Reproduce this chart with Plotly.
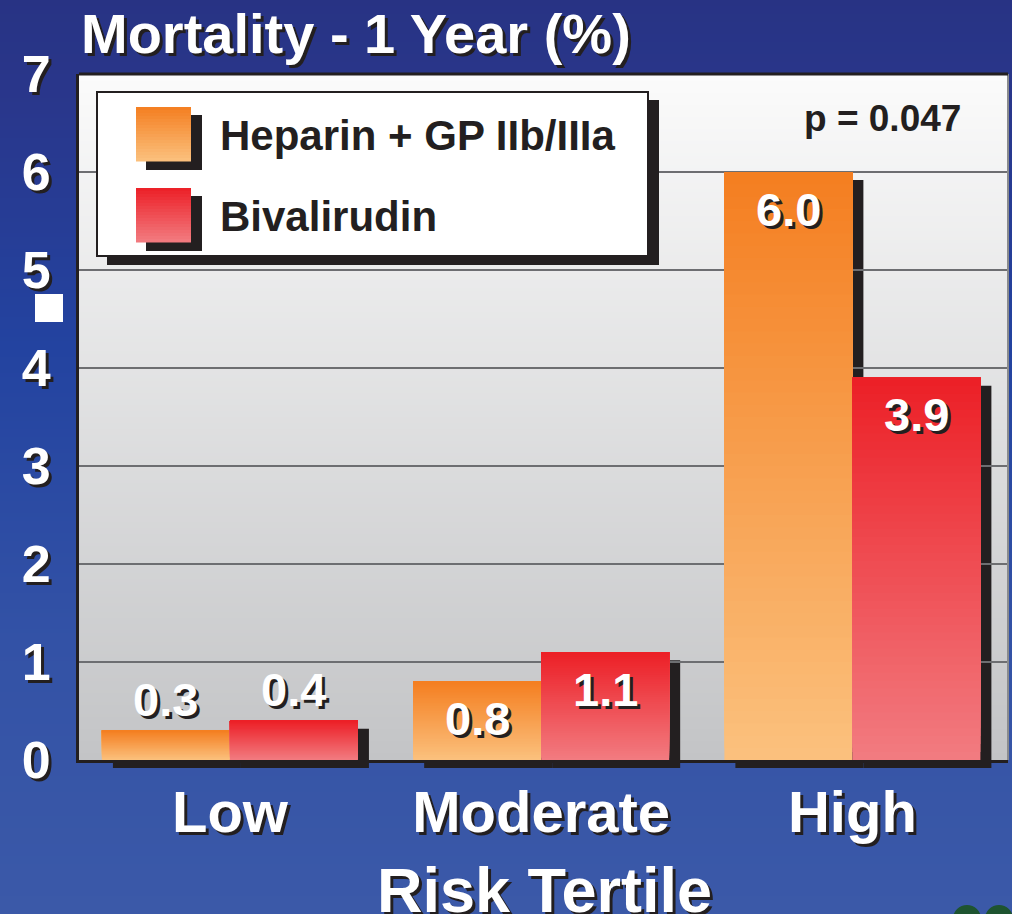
import numpy as np
import plotly.graph_objects as go

# ---------------- data ----------------
categories = ["Low", "Moderate", "High"]
heparin = [0.3, 0.8, 6.0]
bivalirudin = [0.4, 1.1, 3.9]
series_names = ["Heparin + GP IIb/IIIa", "Bivalirudin"]
y_ticks = [0, 1, 2, 3, 4, 5, 6, 7]
title_text = "Mortality - 1 Year (%)"
x_title_text = "Risk Tertile"
p_text = "p = 0.047"

# ---------------- layout geometry ----------------
W, H = 1012, 914
FONT = "Liberation Sans, Arial, Helvetica, sans-serif"
DARK = "#231f20"


def px_x(px):
    return px / W


def px_y(py):
    return 1 - py / H


PLOT_L, PLOT_R, PLOT_T, PLOT_B = 79, 1008, 74, 760
dom_x = [px_x(PLOT_L), px_x(PLOT_R)]
dom_y = [px_y(PLOT_B), px_y(PLOT_T)]
XR = [-0.485, 2.5]
YR = [0, 7]
ppx = (PLOT_R - PLOT_L) / (XR[1] - XR[0])
ppy = (PLOT_B - PLOT_T) / (YR[1] - YR[0])
BW = 128 / ppx          # bar width in category units
SH_DX, SH_DY = 11, 8    # shadow offset in pixels
NSEG = 48               # gradient steps

# shadow subplot: same scale as the main one, shifted by the shadow offset
sh_dom_x = [px_x(PLOT_L + SH_DX), 1.0]
sh_XR = [XR[0], XR[0] + (W - PLOT_L - SH_DX) / ppx]
sh_dom_y = [px_y(PLOT_B + SH_DY), px_y(PLOT_T + SH_DY)]

series = [
    dict(name=series_names[0], values=heparin, offset=-BW, top="#f47e20", bot="#fbc17e"),
    dict(name=series_names[1], values=bivalirudin, offset=0.0, top="#ec1f26", bot="#f27c81"),
]


def hex2rgb(h):
    h = h.lstrip("#")
    return [int(h[i:i + 2], 16) for i in (0, 2, 4)]


def mix(c1, c2, t):
    a, b = hex2rgb(c1), hex2rgb(c2)
    return "rgb(%d,%d,%d)" % tuple(round(a[i] + (b[i] - a[i]) * t) for i in range(3))


fig = go.Figure()

# page background gradient (subplot x/y covering the whole page)
gy = np.linspace(0, 1, 230)
fig.add_trace(go.Heatmap(
    x=[0, 1], y=gy, z=[[v, v] for v in gy], zmin=0, zmax=1,
    colorscale=[[0, "#3b59a8"], [0.3, "#3352a6"], [0.62, "#2343a0"], [0.88, "#29378c"], [1, "#283384"]],
    showscale=False, hoverinfo="skip", xaxis="x", yaxis="y"))

# plot-area background gradient (subplot x2/y2)
fig.add_trace(go.Heatmap(
    x=[0, 1], y=gy, z=[[v, v] for v in gy], zmin=0, zmax=1,
    colorscale=[[0, "#c3c4c6"], [1, "#fbfbfb"]],
    showscale=False, hoverinfo="skip", xaxis="x2", yaxis="y2"))

# bar shadows (subplot x3/y3, shifted)
for s in series:
    fig.add_trace(go.Bar(
        x=categories, y=s["values"], offset=s["offset"], width=BW,
        marker=dict(color=DARK, line=dict(width=0)),
        showlegend=False, hoverinfo="skip", xaxis="x3", yaxis="y3"))

# gradient bars: layered bars, each layer starting higher and reaching the value
for s in series:
    vals = np.array(s["values"], dtype=float)
    for k in range(NSEG):
        t = (k + 0.5) / NSEG
        fig.add_trace(go.Bar(
            x=categories, y=vals * (1 - k / NSEG), base=vals * k / NSEG,
            offset=s["offset"], width=BW,
            marker=dict(color=mix(s["bot"], s["top"], t), line=dict(width=0)),
            name=s["name"], showlegend=False, hoverinfo="skip",
            xaxis="x4", yaxis="y4"))

label_font = dict(family=FONT, size=47, color="white", weight="bold",
                  shadow="3px 3px 0px " + DARK)
annotations = []
for s in series:
    for i, v in enumerate(s["values"]):
        inside = v * ppy > 60
        annotations.append(dict(
            x=i + s["offset"] + BW / 2, y=v, xref="x4", yref="y4",
            text="%.1f" % v, showarrow=False, font=label_font,
            yanchor="middle", yshift=-37 if inside else 31))

# axis title
annotations.append(dict(
    x=px_x(544), y=px_y(853), xref="paper", yref="paper", xanchor="center", yanchor="top",
    text=x_title_text, showarrow=False,
    font=dict(family=FONT, size=63, color="white", weight="bold", shadow="3px 3px 0px " + DARK)))

# p value
annotations.append(dict(
    x=px_x(882), y=px_y(118), xref="paper", yref="paper", xanchor="center", yanchor="middle",
    text=p_text, showarrow=False,
    font=dict(family=FONT, size=37, color=DARK, weight="bold")))

shapes = []


def rect(x0, y0, x1, y1, fill, line_color=None, lw=0):
    return dict(type="rect", xref="paper", yref="paper",
                x0=px_x(x0), x1=px_x(x1), y0=px_y(y1), y1=px_y(y0),
                fillcolor=fill, line=dict(color=line_color or fill, width=lw), layer="above")


# right border of plot
shapes.append(dict(type="line", xref="paper", yref="paper", x0=px_x(1008), x1=px_x(1008),
                   y0=dom_y[0], y1=dom_y[1], line=dict(color="#8a8b8d", width=2), layer="above"))
# top border
shapes.append(dict(type="line", xref="paper", yref="paper", x0=dom_x[0], x1=dom_x[1],
                   y0=dom_y[1], y1=dom_y[1], line=dict(color=DARK, width=3), layer="above"))

# legend box with shadow
shapes.append(rect(107, 100, 659, 265, DARK))
shapes.append(rect(97, 92, 648, 256, "white", DARK, 2))
sw_y = [107, 188]
for j, s in enumerate(series):
    y0 = sw_y[j]
    shapes.append(rect(146, y0 + 8, 202, y0 + 63, DARK))
    n = 18
    h = 54 / n
    for k in range(n):
        t = 1 - (k + 0.5) / n
        shapes.append(rect(136, y0 + k * h, 191, y0 + (k + 1) * h + 0.6, mix(s["bot"], s["top"], t)))
    annotations.append(dict(
        x=px_x(218), y=px_y(y0 + 28), xref="paper", yref="paper", xanchor="left", yanchor="middle",
        text=s["name"], showarrow=False, font=dict(family=FONT, size=42, color=DARK, weight="bold")))

# small white square on the left and green marks at bottom right
shapes.append(rect(35, 294, 63, 322, "white"))
for cx in (967, 999):
    shapes.append(dict(type="circle", xref="paper", yref="paper",
                       x0=px_x(cx - 14), x1=px_x(cx + 14), y0=px_y(932), y1=px_y(905),
                       fillcolor="#1e5430", line=dict(width=0), layer="above"))

tick_font = dict(family=FONT, size=52, color="white", weight="bold", shadow="3px 3px 0px " + DARK)
xtick_font = dict(family=FONT, size=58, color="white", weight="bold", shadow="3px 3px 0px " + DARK)

hidden = dict(visible=False, fixedrange=True, automargin=False, showgrid=False, zeroline=False)
fig.update_layout(
    template="none",
    width=W, height=H, margin=dict(l=0, r=0, t=0, b=0, pad=0, autoexpand=False),
    paper_bgcolor="#2f4a9e", plot_bgcolor="rgba(0,0,0,0)",
    barmode="overlay", showlegend=False,
    title=dict(text=title_text, x=px_x(81), xanchor="left", xref="paper",
               y=px_y(33), yanchor="middle", yref="container", automargin=False,
               font=dict(family=FONT, size=56, color="white", weight="bold",
                         shadow="3px 3px 0px " + DARK)),
    xaxis=dict(domain=[0, 1], anchor="y", range=[0, 1], **hidden),
    yaxis=dict(domain=[0, 1], anchor="x", range=[0, 1], **hidden),
    xaxis2=dict(domain=dom_x, anchor="y2", range=[0, 1], **hidden),
    yaxis2=dict(domain=dom_y, anchor="x2", range=[0, 1], **hidden),
    xaxis3=dict(domain=sh_dom_x, anchor="y3", range=sh_XR, type="category",
                categoryorder="array", categoryarray=categories, **hidden),
    yaxis3=dict(domain=sh_dom_y, anchor="x3", range=YR, **hidden),
    xaxis4=dict(domain=dom_x, range=XR, type="category", categoryorder="array",
                categoryarray=categories, anchor="y4", showgrid=False, automargin=False,
                showline=True, linecolor=DARK, linewidth=3, mirror=False, fixedrange=True,
                ticks="", tickfont=xtick_font, ticklabelstandoff=-1, zeroline=False),
    yaxis4=dict(domain=dom_y, range=YR, anchor="x4", tickvals=y_ticks, automargin=False,
                showgrid=True, gridcolor="#6d6e71", gridwidth=1.5, fixedrange=True,
                showline=True, linecolor=DARK, linewidth=3, mirror=False,
                ticks="", tickfont=tick_font, ticklabelstandoff=15, zeroline=False),
    annotations=annotations, shapes=shapes,
)

fig.write_html("out.html", config={"displayModeBar": False},
               post_script="document.body.style.margin='0px';")
